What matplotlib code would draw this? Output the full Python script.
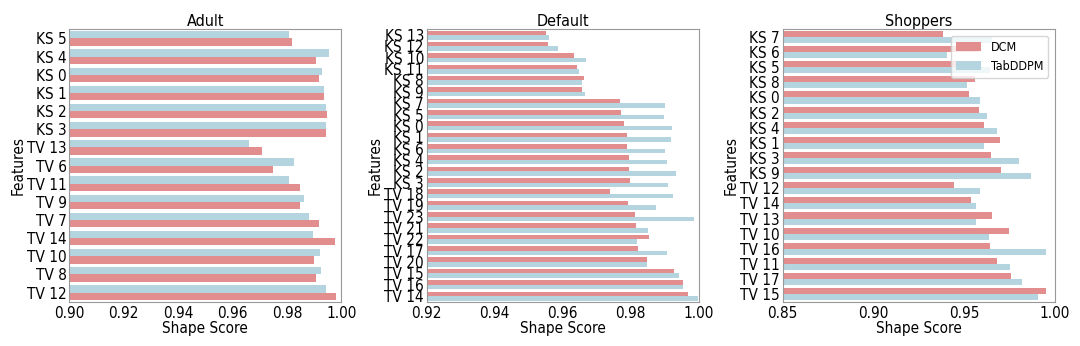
import matplotlib
matplotlib.use("Agg")
import matplotlib.pyplot as plt
import seaborn as sns
import pandas as pd

adult_features = ["KS 5", "KS 4", "KS 0", "KS 1", "KS 2", "KS 3", "TV 13", "TV 6",
                  "TV 11", "TV 9", "TV 7", "TV 14", "TV 10", "TV 8", "TV 12"]
adult_tabddpm = [0.9809, 0.9955, 0.9929, 0.9936, 0.9944, 0.9945, 0.9662, 0.9826,
                 0.9809, 0.9862, 0.9883, 0.9897, 0.9922, 0.9925, 0.9942]
adult_dcm = [0.9820, 0.9906, 0.9919, 0.9936, 0.9946, 0.9945, 0.9709, 0.9750,
             0.9848, 0.9848, 0.9917, 0.9977, 0.9901, 0.9908, 0.9982]

default_features = ["KS 13", "KS 12", "KS 10", "KS 11", "KS 8", "KS 9", "KS 7", "KS 5",
                    "KS 0", "KS 1", "KS 6", "KS 4", "KS 2", "KS 3", "TV 18", "TV 19",
                    "TV 23", "TV 21", "TV 22", "TV 17", "TV 20", "TV 15", "TV 16", "TV 14"]
default_dcm = [0.9552, 0.9556, 0.9633, 0.9642, 0.9662, 0.9657, 0.9770, 0.9772,
               0.9779, 0.9790, 0.9790, 0.9794, 0.9794, 0.9798, 0.9739, 0.9791,
               0.9814, 0.9815, 0.9853, 0.9821, 0.9848, 0.9928, 0.9954, 0.9969]
default_tabddpm = [0.9559, 0.9585, 0.9669, 0.9647, 0.9656, 0.9667, 0.9900, 0.9899,
                   0.9923, 0.9918, 0.9900, 0.9907, 0.9932, 0.9911, 0.9926, 0.9875,
                   0.9986, 0.9850, 0.9818, 0.9906, 0.9847, 0.9941, 0.9955, 0.9997]

shoppers_features = ["KS 7", "KS 6", "KS 5", "KS 8", "KS 0", "KS 2", "KS 4", "KS 1",
                     "KS 3", "KS 9", "TV 12", "TV 14", "TV 13", "TV 10", "TV 16",
                     "TV 11", "TV 17", "TV 15"]
shoppers_dcm = [0.9387, 0.9582, 0.9535, 0.9560, 0.9527, 0.9584, 0.9608, 0.9696,
                0.9650, 0.9706, 0.9444, 0.9538, 0.9656, 0.9748, 0.9641,
                0.9683, 0.9759, 0.9950]
shoppers_tabddpm = [0.9654, 0.9406, 0.9645, 0.9516, 0.9588, 0.9626, 0.9683, 0.9608,
                    0.9803, 0.9869, 0.9588, 0.9564, 0.9569, 0.9636, 0.9950,
                    0.9755, 0.9820, 0.9908]

titles = ["Adult", "Default", "Shoppers"]
xlims = [(0.90, 1.00), (0.92, 1.00), (0.85, 1.00)]
xticks = [[0.90, 0.92, 0.94, 0.96, 0.98, 1.00],
          [0.92, 0.94, 0.96, 0.98, 1.00],
          [0.85, 0.90, 0.95, 1.00]]

colors = {"DCM": "lightcoral", "TabDDPM": "lightblue"}

plt.rcParams["font.family"] = ["DejaVu Sans"]
plt.rcParams["font.stretch"] = "condensed"


def make_df(features, dcm, tab, order):
    rows = []
    for f, d, t in zip(features, dcm, tab):
        vals = {"DCM": d, "TabDDPM": t}
        for m in order:
            rows.append({"Features": f, "Model": m, "Shape Score": vals[m]})
    return pd.DataFrame(rows)


datasets = [
    (adult_features, adult_dcm, adult_tabddpm, ["TabDDPM", "DCM"]),
    (default_features, default_dcm, default_tabddpm, ["DCM", "TabDDPM"]),
    (shoppers_features, shoppers_dcm, shoppers_tabddpm, ["DCM", "TabDDPM"]),
]

fig = plt.figure(figsize=(10.8, 3.46), dpi=100)
lefts = [0.0642, 0.3951, 0.7247]
fs = 11
for i, (feat, dcm, tab, order) in enumerate(datasets):
    ax = fig.add_axes([lefts[i], 0.128, 0.2518, 0.787])
    df = make_df(feat, dcm, tab, order)
    sns.barplot(data=df, y="Features", x="Shape Score", hue="Model",
                hue_order=order, order=feat, palette=colors, ax=ax, orient="h")
    ax.set_xlim(*xlims[i])
    ax.set_xticks(xticks[i])
    ax.set_xticklabels([f"{v:.2f}" for v in xticks[i]], fontsize=fs)
    ax.tick_params(axis="y", labelsize=fs, length=0, pad=2)
    ax.tick_params(axis="x", length=0, pad=3)
    ax.set_title(titles[i], fontsize=fs + 0.5, pad=2.5)
    ax.set_xlabel("Shape Score", fontsize=fs, labelpad=0)
    ax.set_ylabel("Features", fontsize=fs, labelpad=1)
    for sp in ax.spines.values():
        sp.set_color("#999999")
    if i == 2:
        handles, labels = ax.get_legend_handles_labels()
        hmap = dict(zip(labels, handles))
        ax.legend([hmap["DCM"], hmap["TabDDPM"]], ["DCM", "TabDDPM"],
                  loc="upper right", fontsize=9)
    else:
        leg = ax.get_legend()
        if leg is not None:
            leg.remove()

fig.savefig("out.png", dpi=100)
